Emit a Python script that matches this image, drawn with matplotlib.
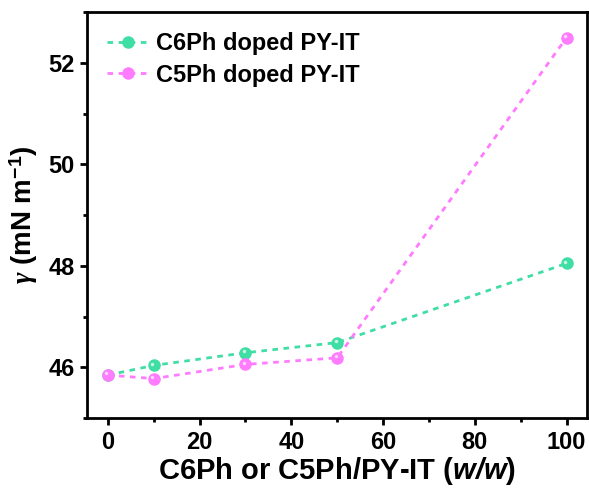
import matplotlib
matplotlib.use("Agg")
import matplotlib.pyplot as plt
from matplotlib.ticker import MultipleLocator
from matplotlib.transforms import offset_copy

plt.rcParams['font.family'] = ['Liberation Sans', 'DejaVu Sans']
plt.rcParams['font.weight'] = 'bold'
plt.rcParams['mathtext.fontset'] = 'custom'
plt.rcParams['mathtext.it'] = 'Liberation Serif:italic'
plt.rcParams['mathtext.rm'] = 'Liberation Sans:bold'
plt.rcParams['mathtext.bf'] = 'Liberation Sans:bold'
plt.rcParams['mathtext.bfit'] = 'Liberation Sans:bold:italic'

ratio = [0, 10, 30, 50, 100]
c6ph = [45.85, 46.04, 46.29, 46.49, 48.05]
c5ph = [45.85, 45.78, 46.06, 46.19, 52.5]
labels = ["C6Ph doped PY-IT", "C5Ph doped PY-IT"]
colors = ["#3fdea4", "#ff7bff"]

fig = plt.figure(figsize=(5.89, 4.88), dpi=100)
ax = fig.add_axes([0.148, 0.143, 0.849, 0.832])

hl = offset_copy(ax.transData, fig=fig, x=-1.2, y=1.2, units='points')
for y, lab, col in zip([c6ph, c5ph], labels, colors):
    ax.plot(ratio, y, linestyle=(0, (2, 2)), lw=2, color=col, marker='o',
            ms=8, mec=col, mfc=col, label=lab)
    # small highlight to mimic the shaded sphere markers
    ax.plot(ratio, y, linestyle='none', marker='o', ms=2.5, mfc='white',
            mec='none', alpha=0.7, transform=hl)

ax.set_xlim(-4.5, 104.5)
ax.set_ylim(45, 53)
ax.xaxis.set_major_locator(MultipleLocator(20))
ax.xaxis.set_minor_locator(MultipleLocator(10))
ax.yaxis.set_major_locator(MultipleLocator(2))
ax.yaxis.set_minor_locator(MultipleLocator(1))
ax.tick_params(which='major', direction='out', length=5, width=2, labelsize=17, pad=4)
ax.tick_params(which='minor', direction='out', length=3, width=2)
for s in ax.spines.values():
    s.set_linewidth(2)

ax.set_xlabel(r"C6Ph or C5Ph/PY-IT ($\mathbfit{w/w}$)", fontsize=21, fontweight='bold', labelpad=1)
ax.set_ylabel(r"$\gamma$ (mN m$^{\mathbf{-1}}$)", fontsize=20, fontweight='bold', labelpad=6)

ax.legend(loc='upper left', frameon=False, fontsize=17, handlelength=1.8,
          handletextpad=0.25, borderaxespad=0.55, labelspacing=0.35,
          borderpad=0.3)

fig.savefig("out.png", dpi=100)
